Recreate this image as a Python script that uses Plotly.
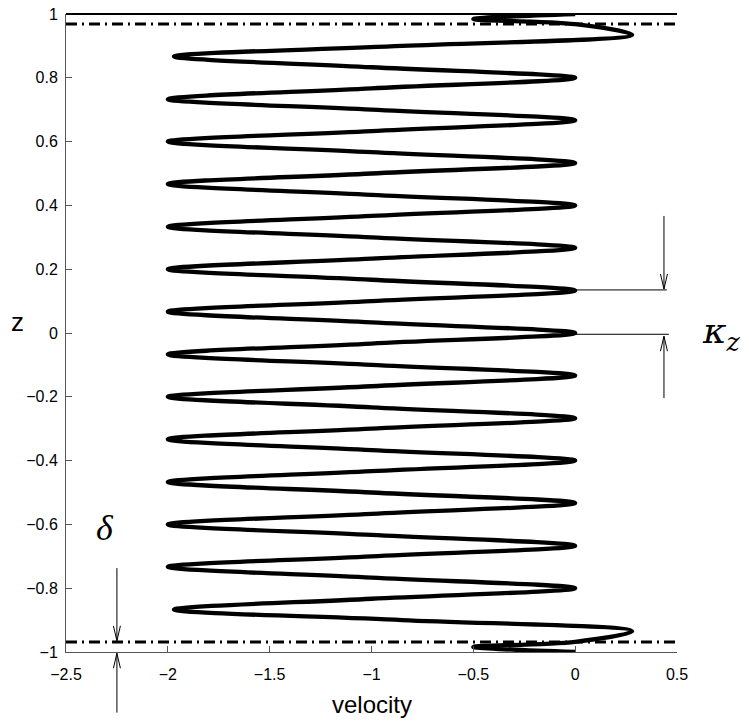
import plotly.graph_objects as go

# ---- data ----
z_values = [-1.000, -0.984, -0.968, -0.935, -0.900, -0.867, -0.833, -0.800, -0.767, -0.733,
            -0.700, -0.667, -0.633, -0.600, -0.567, -0.533, -0.500, -0.467, -0.433, -0.400,
            -0.367, -0.333, -0.300, -0.267, -0.233, -0.200, -0.167, -0.133, -0.100, -0.067,
            -0.033, 0.000, 0.033, 0.067, 0.100, 0.133, 0.167, 0.200, 0.233, 0.267,
            0.300, 0.333, 0.367, 0.400, 0.433, 0.467, 0.500, 0.533, 0.567, 0.600,
            0.633, 0.667, 0.700, 0.733, 0.767, 0.800, 0.833, 0.867, 0.900, 0.935,
            0.968, 0.984, 1.000]
velocity = [0.00, -0.50, 0.00, 0.28, -0.85, -1.97, -1.00, 0.00, -1.00, -2.00,
            -1.00, 0.00, -1.00, -2.00, -1.00, 0.00, -1.00, -2.00, -1.00, 0.00,
            -1.00, -2.00, -1.00, 0.00, -1.00, -2.00, -1.00, 0.00, -1.00, -2.00,
            -1.00, 0.00, -1.00, -2.00, -1.00, 0.00, -1.00, -2.00, -1.00, 0.00,
            -1.00, -2.00, -1.00, 0.00, -1.00, -2.00, -1.00, 0.00, -1.00, -2.00,
            -1.00, 0.00, -1.00, -2.00, -1.00, 0.00, -1.00, -1.97, -0.85, 0.28,
            0.00, -0.50, 0.00]

x_ticks = [-2.5, -2, -1.5, -1, -0.5, 0, 0.5]
y_ticks = [-1, -0.8, -0.6, -0.4, -0.2, 0, 0.2, 0.4, 0.6, 0.8, 1]
wall_z = 1.0
delta = 0.031
kappa_levels = [0.135, -0.004]

X_RANGE = [-2.5, 0.5]
Y_RANGE = [-1, 1]


def px(x):
    return (x - X_RANGE[0]) / (X_RANGE[1] - X_RANGE[0])


def py(z):
    return (z - Y_RANGE[0]) / (Y_RANGE[1] - Y_RANGE[0])


fig = go.Figure()
fig.add_trace(go.Scatter(x=velocity, y=z_values, mode="lines",
                         line=dict(color="black", width=4.3, shape="spline", smoothing=1.0),
                         showlegend=False, hoverinfo="skip"))

shapes = []
# wall line at top
shapes.append(dict(type="line", xref="paper", yref="paper", x0=0, x1=1,
                   y0=py(wall_z), y1=py(wall_z), line=dict(color="black", width=2)))
# dash-dot lines at +-(1-delta)
for s in (1, -1):
    zz = s * (wall_z - delta)
    shapes.append(dict(type="line", xref="paper", yref="paper", x0=0, x1=1,
                       y0=py(zz), y1=py(zz),
                       line=dict(color="black", width=3, dash="11px,5px,2px,5px")))
# kappa guide lines
shapes.append(dict(type="line", xref="paper", yref="paper", x0=px(0.0), x1=px(0.45),
                   y0=py(kappa_levels[0]), y1=py(kappa_levels[0]), line=dict(color="black", width=1)))
shapes.append(dict(type="line", xref="paper", yref="paper", x0=px(0.0), x1=px(0.46),
                   y0=py(kappa_levels[1]), y1=py(kappa_levels[1]), line=dict(color="black", width=1)))


def arrow(x, z_from, z_to):
    shapes.append(dict(type="line", xref="paper", yref="paper", x0=px(x), x1=px(x),
                       y0=py(z_from), y1=py(z_to), line=dict(color="black", width=1)))
    sgn = 1 if z_to > z_from else -1
    hx = 3.5 / 611
    hy = 15 / 638
    xt, yt = px(x), py(z_to)
    path = f"M {xt - hx},{yt - sgn * hy} L {xt},{yt} L {xt + hx},{yt - sgn * hy}"
    shapes.append(dict(type="path", xref="paper", yref="paper", path=path,
                       line=dict(color="black", width=1)))


arrow(0.436, 0.367, kappa_levels[0] + 0.003)
arrow(0.436, -0.204, kappa_levels[1] - 0.006)
arrow(-2.25, -0.737, -(wall_z - delta) + 0.004)
arrow(-2.25, -1.19, -1.004)

annotations = [
    dict(text="velocity", xref="paper", yref="paper", x=0.5, y=-0.083, showarrow=False,
         xanchor="center", yanchor="middle", font=dict(size=24, family="Liberation Sans", color="black")),
    dict(text="z", xref="paper", yref="paper", x=-0.079, y=py(0.035), showarrow=False,
         xanchor="center", yanchor="middle", font=dict(size=26, family="Liberation Sans", color="black")),
    dict(text="<i>κ</i><sub><i>z</i></sub>", xref="paper", yref="paper", x=px(0.72), y=py(0.0),
         showarrow=False, xanchor="center", yanchor="middle",
         font=dict(size=36, family="DejaVu Serif", color="black")),
    dict(text="<i>δ</i>", xref="paper", yref="paper", x=px(-2.31), y=py(-0.61),
         showarrow=False, xanchor="center", yanchor="middle",
         font=dict(size=36, family="Liberation Serif", color="black")),
]

fig.update_layout(
    width=749, height=721,
    margin=dict(l=66, r=72, t=14, b=69, autoexpand=False),
    paper_bgcolor="white", plot_bgcolor="white",
    shapes=shapes, annotations=annotations,
    font=dict(family="Liberation Sans", size=16, color="black"),
    xaxis=dict(range=X_RANGE, tickvals=x_ticks, ticks="inside", ticklen=6, tickcolor="#555",
               showline=True, linecolor="#555", linewidth=1, showgrid=False, zeroline=False,
               ticklabelstandoff=8, tickfont=dict(size=16), automargin=False),
    yaxis=dict(range=Y_RANGE, tickvals=y_ticks, ticks="inside", ticklen=6, tickcolor="#555",
               showline=True, linecolor="#555", linewidth=1, showgrid=False, zeroline=False,
               ticklabelstandoff=4, tickfont=dict(size=16), automargin=False),
)

fig.write_html("out.html", config={"displayModeBar": False},
               post_script="document.body.style.margin='0';document.body.style.padding='0';")
